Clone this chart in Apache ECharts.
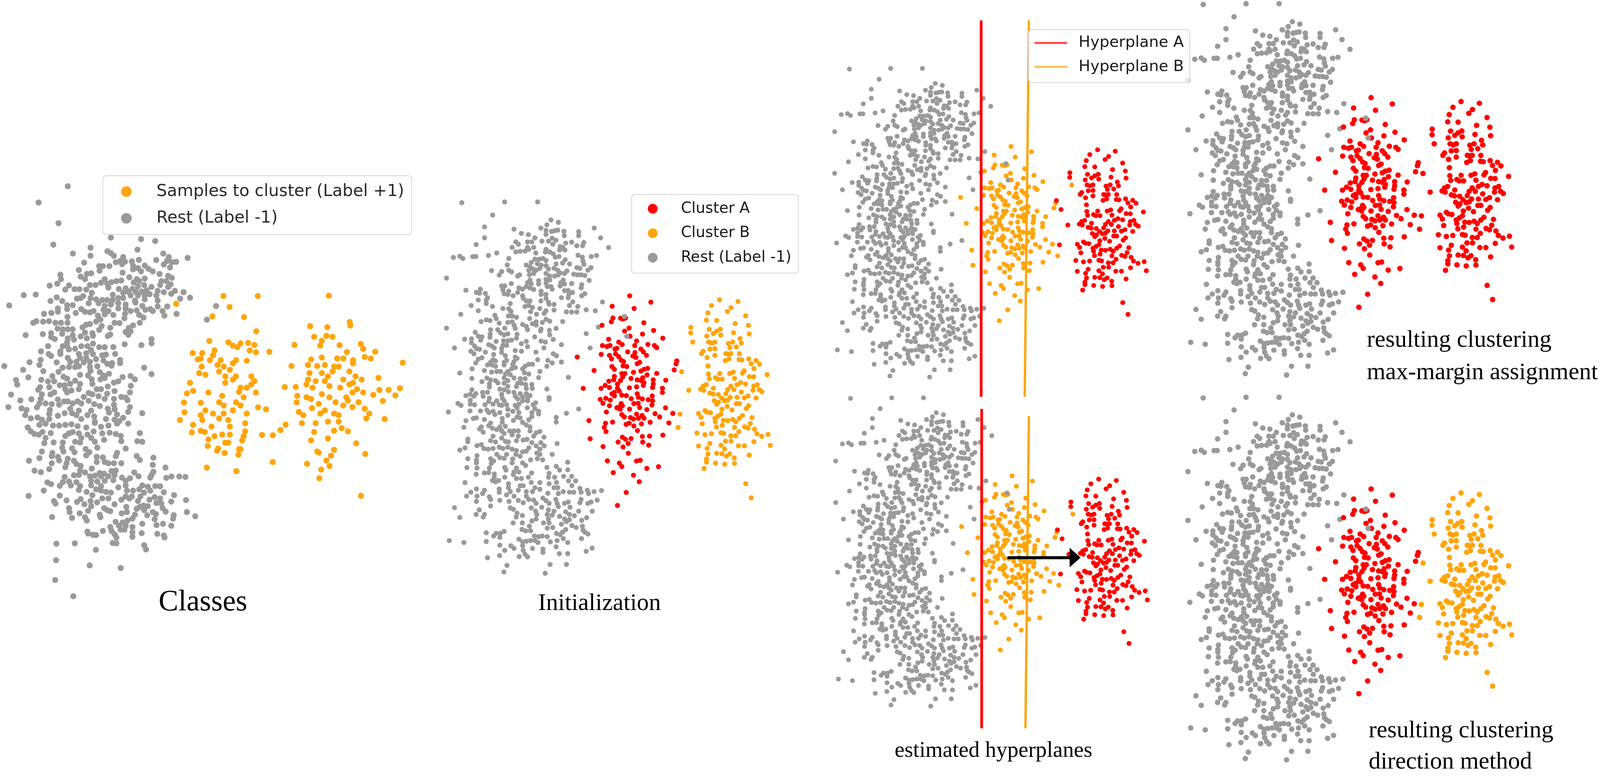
<!DOCTYPE html>
<html><head><meta charset="utf-8">
<style>html,body{margin:0;padding:0;background:#fff;overflow:hidden}#c{width:100vw;height:100vh}</style>
<script src="https://cdn.jsdelivr.net/npm/echarts@6/dist/echarts.min.js"></script>
</head><body><div id="c"></div>
<script>
// Point positions, in reading units of each crop.
const restSharedFar = [[77,30],[238,27],[362,27],[193,79]];
const restSharedUpper = [[890,10],[950,28],[857,47],[351,63],[590,80],[808,72],[1241,72],[650,113],[707,122],[351,147],[760,147],[1293,147],[283,198],[850,90],[850,120],[895,98],[920,92],[945,88],[995,97],[998,130],[1115,100],[1115,130],[817,172],[700,178],[735,178],[605,178],[625,195],[575,220],[870,172],[900,150],[930,165],[905,195],[1010,187],[1058,180],[1100,207],[1157,182],[1147,207],[1358,221],[750,220],[700,220],[965,215],[985,220],[960,240],[1003,240],[850,235],[845,255],[880,255],[605,255],[640,250],[680,248],[710,235],[767,263],[450,263],[383,282],[98,297],[150,288],[175,305],[255,290],[280,290],[908,270],[925,295],[955,290],[1110,280],[1145,295],[1217,290],[1260,282],[548,305],[1150,325],[1158,350],[1005,315],[985,340],[1041,347],[932,347],[760,310],[795,310],[825,305],[850,320],[730,335],[690,355],[720,370],[780,345],[810,355],[850,360],[535,355],[1100,375],[1125,380],[1215,375],[1190,395],[870,385],[915,380],[945,395],[965,415],[1020,400],[1000,420],[408,398],[490,405],[470,432],[548,395],[570,408],[620,440],[635,430],[710,395],[745,385],[770,395],[800,380],[715,430],[750,420],[850,420],[880,440],[920,440],[950,430],[1075,425],[1105,430],[1135,430],[1165,435],[42,455],[1200,473],[720,470],[850,465],[880,470],[790,475],[790,500],[990,470],[970,490],[1000,500],[965,515],[1058,497],[1140,505],[1135,530],[568,497],[490,515],[515,515],[700,490],[730,500],[850,495],[860,520],[890,520],[900,540],[690,520],[720,530],[750,542],[630,530],[660,540],[620,565],[500,545],[548,555],[510,575],[540,580],[200,548],[317,540],[285,565],[310,570],[357,572],[1000,552],[1030,550],[1065,565],[1035,580],[1030,605],[1165,575],[1140,590],[810,555],[810,580],[850,580],[583,590],[660,590],[665,610],[975,605],[375,605],[365,625],[300,623],[365,650],[850,610],[870,640],[808,630],[1308,638],[690,630],[720,630],[1067,637],[1040,665],[875,655],[915,657],[560,650],[242,665],[415,672],[680,672],[710,665],[740,680],[725,712],[1108,672],[500,688],[548,690],[800,688],[915,700],[1176,698],[1015,714],[1058,715],[1100,715],[1250,705],[300,705],[565,710],[850,705],[835,725],[773,732],[158,732],[435,740],[545,745],[575,745],[610,755],[445,765],[717,765],[365,775],[395,780],[323,788],[850,770],[880,785],[985,788],[470,800],[540,795],[575,790],[770,790],[740,805],[770,815],[820,795],[660,810],[690,825],[700,850],[590,815],[600,840],[810,845],[42,838],[515,838],[458,850],[400,850],[877,855],[932,840],[805,860],[275,870],[480,875],[510,890],[540,882],[397,885],[395,908],[880,890],[615,885],[610,915],[758,905],[1176,880],[300,900],[330,905],[190,923],[245,920],[320,930],[908,925],[245,950],[445,940],[505,935],[570,930],[540,935],[690,940],[810,937],[845,945],[500,970],[530,970],[650,957],[385,965],[410,975],[270,975],[700,980],[975,965],[833,990],[107,990],[430,990],[490,995],[285,995],[310,1000],[1208,990],[600,1010],[650,1015],[240,1015],[265,1035],[358,1022],[490,1025],[768,1022],[908,1035],[935,1050],[425,1040],[520,1050],[600,1060],[330,1065],[300,1075],[420,1080],[400,1100],[440,1090],[615,1070],[782,1080],[865,1085],[590,1095],[510,1100],[530,1085],[975,1098],[280,1105],[900,1105],[740,1115],[710,1115],[680,1130],[857,1130],[375,1120],[410,1120],[440,1130],[510,1120],[580,1115],[600,1140],[570,1150],[250,1150],[660,1150],[800,1170],[350,1163],[408,1175],[150,1182],[450,1170],[540,1170],[480,1170],[675,1180],[710,1190],[520,1190],[560,1195],[790,1217],[1032,1215],[248,1223],[370,1220],[510,1220],[590,1220],[640,1225],[680,1225],[400,1235],[440,1240],[460,1258],[330,1248],[540,1240],[620,1260],[650,1260],[735,1270],[390,1265],[685,1270],[510,1260],[540,1285],[390,1290],[610,1285],[738,1300],[857,1305],[475,1305],[510,1310],[690,1300],[248,1310],[335,1330],[375,1330],[545,1325],[590,1330],[640,1340],[690,1340],[720,1355],[280,1340],[200,1355],[235,1345],[265,1360],[340,1360],[490,1345],[600,1360],[660,1365],[875,1370],[390,1375],[620,1380],[495,1375],[700,1375],[1275,830]];
const restSharedLower = [[875,5],[135,35],[160,50],[235,10],[235,40],[270,45],[355,45],[385,20],[420,40],[450,15],[470,45],[510,15],[530,45],[490,50],[600,50],[630,40],[660,15],[700,15],[765,30],[745,45],[698,68],[1115,77],[58,100],[233,92],[318,92],[370,85],[385,105],[420,95],[435,120],[475,105],[540,80],[540,125],[615,70],[580,95],[630,105],[760,75],[790,95],[735,105],[790,115],[1016,110],[260,150],[285,145],[933,142],[200,167],[350,158],[615,140],[585,165],[640,145],[710,160],[735,135],[495,150],[495,180],[933,178],[660,180],[400,185],[385,205],[183,218],[325,215],[310,230],[340,255],[415,225],[450,235],[475,215],[520,210],[690,200],[720,215],[720,245],[800,250],[770,260],[750,285],[490,245],[510,265],[555,245],[590,245],[625,245],[625,285],[575,275],[833,293],[215,308],[215,328],[420,285],[400,320],[440,330],[490,300],[520,325],[545,330],[610,320],[665,315],[695,310],[735,335],[808,335],[940,342],[290,358],[325,350],[835,360],[770,360],[345,380],[380,385],[420,380],[470,370],[500,380],[540,370],[575,385],[610,395],[660,405],[690,400],[710,375],[192,376],[150,392],[800,385],[775,415],[605,425],[640,440],[800,425],[900,425],[450,425],[475,450],[530,425],[510,455],[290,435],[215,458],[285,470],[285,490],[400,458],[425,475],[405,495],[580,460],[575,490],[725,467],[780,458],[823,467],[660,490],[685,510],[1026,485],[208,526],[290,530],[515,525],[525,545],[390,530],[857,525],[933,517],[960,545],[1026,543],[610,530],[350,567],[385,565],[283,577],[430,575],[590,560],[630,560],[585,580],[733,567],[875,570],[610,610],[650,610],[707,600],[515,600],[430,600],[415,625],[465,625],[440,635],[870,600],[920,600],[993,593],[1058,593],[1033,628],[1090,628],[192,641],[730,640],[800,641],[545,650],[875,650],[935,640],[1060,665],[1125,685],[640,665],[665,665],[545,680],[760,680],[800,692],[285,690],[350,700],[240,715],[470,690],[470,715],[625,700],[690,710],[740,710],[915,680],[945,680],[990,710],[1040,715],[1075,715],[1135,715],[1185,700],[1195,725],[1240,710],[1300,702],[865,723],[205,745],[290,745],[335,725],[560,710],[530,735],[590,745],[690,745],[950,725],[930,770],[390,750],[400,770],[285,785],[475,777],[625,777],[550,785],[665,795],[710,770],[750,775],[770,800],[825,760],[850,780],[875,800],[1135,770],[1125,795],[1265,775],[1190,800],[1215,790],[940,800],[1000,800],[1030,790],[400,820],[107,833],[560,835],[585,845],[730,835],[815,830],[765,860],[1045,830],[950,825],[1010,865],[870,850],[915,860],[1115,860],[1225,860],[308,850],[615,875],[283,885],[350,885],[340,905],[150,908],[608,905],[658,893],[775,885],[860,885],[900,890],[1040,885],[1080,895],[1180,910],[960,900],[1000,920],[770,920],[735,935],[870,920],[830,950],[875,950],[1040,925],[1140,930],[583,950],[658,950],[975,960],[1015,940],[1060,970],[1095,985],[1145,975],[715,975],[860,990],[905,985],[655,1000],[685,1010],[725,1010],[1150,1005],[1010,1000],[985,1020],[1190,1035],[1165,1020],[365,1025],[510,1015],[480,1030],[445,1030],[425,1050],[475,1060],[935,1030],[965,1040],[990,1070],[755,1050],[790,1055],[820,1050],[860,1055],[1138,1070],[630,1075],[660,1095],[690,1090],[725,1085],[760,1085],[785,1100],[885,1095],[940,1085],[1026,1100],[65,1085],[183,1100],[365,1092],[475,1120],[565,1125],[590,1145],[660,1125],[665,1160],[740,1145],[932,1133],[825,1150],[825,1175],[515,1160],[1224,1143],[1176,1167],[958,1185],[1026,1185],[680,1190],[700,1210],[632,1208],[473,1200],[375,1217],[533,1275],[883,1268],[1016,1268],[508,1325],[843,1335]];
const restOverlap = [[688,483],[697,562]];
const clusterLeftCrop = [[449,20],[621,65],[307,94],[485,110],[313,178],[300,205],[375,180],[415,178],[395,185],[225,230],[564,212],[444,250],[408,272],[643,267],[553,293],[452,308],[718,322],[278,330],[505,342],[490,375],[597,367],[650,375],[668,390],[228,375],[265,382],[290,375],[360,350],[388,368],[345,395],[330,400],[540,400],[560,420],[585,445],[433,420],[492,425],[475,450],[500,460],[218,438],[285,445],[302,470],[335,435],[360,455],[23,457],[380,480],[400,490],[395,520],[425,525],[530,495],[510,505],[305,525],[325,545],[160,553],[595,538],[565,545],[540,557],[480,566],[668,574],[385,575],[410,575],[325,595],[392,600],[590,585],[460,610],[555,605],[742,623],[280,630],[320,620],[375,625],[510,620],[540,625],[640,620],[640,650],[350,650],[565,640],[560,660],[505,670],[635,675],[715,680],[715,710],[250,660],[285,675],[217,681],[72,681],[447,677],[350,680],[325,710],[365,700],[305,720],[510,720],[325,735],[385,730],[422,733],[520,745],[552,757],[632,735],[600,762],[635,770],[630,800],[210,760],[255,752],[292,765],[462,755],[232,788],[483,790],[518,788],[285,805],[380,790],[360,815],[345,820],[390,805],[530,818],[372,830],[448,830],[588,833],[740,820],[260,850],[655,862],[692,885],[385,868],[405,885],[505,865],[550,875],[455,890],[480,900],[520,895],[565,895],[118,911],[310,922],[615,923],[767,928],[545,935],[253,930],[420,938],[445,930],[483,950],[243,960],[257,990],[512,983],[552,1025],[610,1022],[718,1015],[128,1041],[390,1030],[415,1045],[460,1040],[437,1075],[355,1065],[555,1065],[603,1087],[233,1097],[395,1100],[438,1145],[268,1199],[365,1215],[385,1240],[505,1200],[535,1195],[588,1253],[683,1241],[316,1283],[480,1302],[527,1348],[421,1425],[350,1518]];
const clusterRightCrop = [[279,48],[428,60],[213,89],[372,105],[342,132],[183,141],[490,162],[171,193],[255,195],[405,218],[513,231],[45,245],[44,285],[194,259],[285,258],[255,272],[228,290],[288,300],[392,283],[519,292],[175,307],[445,325],[190,350],[240,350],[215,358],[385,350],[350,360],[455,358],[362,390],[415,385],[200,400],[240,398],[145,415],[132,432],[240,445],[330,432],[370,432],[345,435],[440,433],[178,461],[355,470],[325,483],[437,475],[460,478],[515,470],[575,482],[603,508],[535,505],[558,540],[185,521],[478,555],[465,572],[665,583],[188,578],[195,612],[280,575],[245,605],[265,615],[300,615],[360,575],[390,565],[400,610],[520,597],[555,598],[490,650],[450,640],[420,655],[170,655],[145,665],[125,687],[150,695],[28,695],[228,680],[370,665],[345,690],[395,690],[555,665],[585,655],[550,695],[600,690],[622,705],[455,708],[200,715],[225,722],[268,725],[330,720],[510,735],[480,748],[575,750],[365,745],[345,765],[420,745],[295,750],[235,768],[270,780],[255,795],[320,770],[415,790],[440,790],[515,805],[495,825],[340,810],[380,835],[298,830],[160,840],[175,850],[205,855],[108,860],[128,888],[290,865],[265,880],[465,875],[440,895],[542,890],[240,895],[245,920],[310,910],[345,912],[385,903],[410,920],[300,945],[138,934],[528,932],[253,958],[400,960],[482,955],[510,965],[435,990],[562,973],[582,1005],[620,1024],[672,1010],[95,1000],[160,1012],[212,1005],[290,998],[312,1003],[370,1020],[410,1020],[327,1058],[372,1058],[557,1062],[200,1075],[108,1093],[290,1088],[432,1092],[480,1092],[690,1088],[178,1110],[320,1115],[185,1150],[255,1145],[298,1148],[360,1150],[335,1165],[398,1178],[519,1158],[172,1185],[172,1208],[400,1217],[246,1215],[321,1223],[153,1254],[491,1362],[535,1463]];
const bridgeP = [[885,660]];
const bridgeQ = [[882,672],[875,696],[870,869]];
const bridgeR = [[903,703],[897,872]];
const bridgeS = [[890,925]];
const rightStray = [[945,585]];
const restClassesFar = [[221,93],[126,143],[191,207],[705,463],[675,505]];
const restClassesUpper = [[900,25],[1145,37],[1260,52],[433,80],[735,103],[1116,118],[592,148],[735,165],[872,130],[900,145],[925,165],[1325,148],[1370,175],[1523,182],[1000,175],[1127,197],[1268,198],[1070,208],[1430,212],[1395,215],[683,218],[940,215],[975,205],[1015,210],[990,230],[1355,205],[1330,232],[805,245],[835,245],[808,280],[888,245],[1080,240],[1120,260],[1080,270],[1145,285],[1175,240],[1205,265],[1240,285],[1380,255],[640,275],[490,310],[495,345],[740,300],[705,305],[995,295],[1295,305],[1050,330],[655,325],[690,345],[1110,345],[1175,340],[1365,320],[1395,335],[850,345],[820,372],[985,355],[945,360],[905,368],[870,380],[465,380],[403,395],[1085,370],[1130,360],[1310,360],[1350,360],[1385,385],[1300,390],[730,390],[775,390],[560,393],[1120,400],[1170,390],[1230,405],[880,410],[1365,405],[530,425],[605,422],[645,422],[700,425],[965,420],[1020,415],[1075,420],[1100,440],[1150,440],[1190,430],[1280,435],[1330,445],[1420,435],[1390,457],[1490,445],[290,463],[193,468],[745,450],[915,465],[1000,450],[1040,440],[1060,470],[1120,470],[1175,470],[1215,460],[1270,470],[460,485],[675,475],[735,490],[625,495],[655,490],[1543,487],[1463,495],[410,513],[505,513],[780,500],[830,505],[870,505],[915,505],[960,490],[1000,490],[1095,510],[1175,500],[1280,510],[75,547],[545,545],[590,545],[720,530],[800,530],[850,550],[900,540],[960,530],[1020,540],[1100,525],[1155,550],[1280,555],[1357,555],[545,575],[470,570],[660,575],[690,595],[730,600],[760,590],[840,580],[880,590],[960,570],[1020,570],[1060,590],[1110,585],[1180,580],[1220,575],[1320,590],[1433,612],[470,595],[417,605],[358,612],[615,605],[850,615],[920,620],[1015,610],[1130,620],[1240,590],[1335,625],[795,625],[548,635],[1165,640],[1010,645],[815,655],[270,680],[295,668],[350,672],[398,668],[450,680],[495,680],[548,680],[1135,680],[930,680],[970,682],[780,670],[730,690],[700,695],[1080,700],[670,715],[895,718],[825,705],[805,735],[467,725],[1045,720],[510,730],[550,730],[590,730],[415,760],[348,767],[208,775],[1020,750],[1060,745],[505,765],[590,775],[690,755],[750,760],[755,780],[655,785],[895,770],[875,782],[1042,772],[705,800],[415,790],[550,800],[600,810],[445,805],[1230,805],[1230,838],[545,830],[1012,845],[1148,852],[755,840],[920,867],[390,860],[510,860],[545,860],[660,860],[710,860],[805,868],[850,868],[333,900],[490,900],[560,885],[610,880],[740,890],[640,920],[700,915],[935,920],[395,920],[490,920],[830,930],[860,925],[755,920],[415,935],[550,950],[650,950],[700,950],[780,960],[975,965],[330,965],[240,983],[460,985],[570,980],[620,980],[680,985],[730,980],[840,970],[870,995],[910,990],[975,990],[320,1005],[35,1013],[560,1020],[610,1020],[640,1015],[730,1020],[790,1015],[905,1010],[508,1025],[1170,1025],[352,1052],[188,1042],[475,1057],[735,1050],[810,1060],[1230,1075],[650,1080],[885,1072],[715,1085],[840,1085],[425,1090],[515,1095],[230,1100],[130,1120],[995,1097],[1060,1090],[815,1115],[850,1105],[745,1115],[545,1110],[335,1118],[390,1130],[440,1130],[1095,1115],[960,1130],[925,1140],[610,1125],[140,1155],[750,1150],[485,1160],[525,1160],[570,1150],[650,1150],[1062,1165],[325,1175],[875,1170],[400,1175],[530,1190],[580,1200],[640,1190],[820,1190],[785,1190],[930,1205],[310,1195],[440,1215],[1055,1215],[870,1225],[90,1232],[340,1230],[410,1230],[545,1215],[720,1220],[750,1230],[680,1250],[800,1245],[850,1265],[925,1265],[985,1250],[1020,1255],[1035,1275],[255,1268],[330,1265],[470,1270],[520,1285],[550,1285],[630,1285],[720,1280],[165,1277],[370,1300],[320,1300],[420,1305],[480,1310],[590,1300],[660,1300],[765,1305],[925,1310],[810,1320],[68,1328],[300,1330],[1055,1328],[175,1338],[215,1350],[405,1350],[570,1340],[640,1355],[875,1340],[885,1370],[930,1345],[1040,1365],[1155,1375],[740,1355],[525,1375],[585,1375],[400,1380],[205,1390],[470,1395],[620,1390],[710,1390],[765,1400],[950,1385],[305,1408],[250,1415],[340,1425],[400,1420],[660,1420],[1000,1410],[860,1420],[770,1440],[930,1425],[970,1435]];
const restClassesLower = [[860,15],[140,25],[190,15],[250,30],[300,30],[350,25],[400,20],[450,35],[590,10],[640,40],[700,30],[770,15],[520,45],[45,45],[70,75],[100,95],[135,100],[165,80],[232,88],[955,88],[380,90],[410,80],[350,110],[580,75],[460,90],[530,100],[650,90],[710,85],[760,95],[800,110],[190,125],[480,125],[560,125],[665,140],[805,150],[180,165],[255,160],[330,160],[430,155],[470,160],[590,155],[935,150],[975,155],[325,200],[405,205],[610,200],[515,210],[840,207],[160,230],[335,230],[425,235],[545,235],[770,240],[520,260],[245,240],[760,265],[930,265],[240,265],[290,270],[140,280],[605,270],[655,275],[955,295],[1065,277],[55,300],[370,285],[300,298],[420,300],[605,310],[670,310],[700,320],[745,320],[805,320],[240,320],[360,320],[440,325],[1060,332],[350,350],[475,340],[220,365],[565,360],[1163,353],[100,377],[152,388],[470,375],[760,375],[725,380],[510,390],[1065,385],[910,390],[630,395],[665,400],[1050,410],[420,412],[460,410],[550,420],[590,415],[640,420],[700,420],[750,410],[1040,430],[345,425],[810,430],[875,435],[945,420],[1170,432],[1212,422],[1275,422],[1325,425],[205,467],[235,480],[380,460],[440,465],[560,455],[610,460],[670,455],[740,450],[840,455],[395,490],[330,465],[305,493],[470,495],[560,490],[640,495],[975,490],[840,490],[1020,500],[1080,495],[1120,497],[175,530],[460,525],[600,520],[780,505],[640,530],[950,520],[1040,530],[720,545],[680,540],[850,530],[900,530],[990,545],[523,540],[1150,543],[570,565],[1233,565],[52,571],[305,568],[840,575],[890,575],[960,575],[650,590],[700,590],[805,600],[870,590],[1075,580],[1120,590],[1033,600],[258,610],[360,605],[555,610],[475,595],[445,618],[1330,603],[1210,615],[608,620],[940,610],[750,635],[505,635],[270,630],[1090,625],[1130,630],[845,655],[985,645],[955,655],[1020,650],[380,665],[560,650],[665,665],[1140,665],[930,670],[990,680],[715,688],[535,685],[690,680],[850,695],[1060,695],[1165,692],[1337,695],[385,695],[467,705],[808,705],[630,715],[915,715],[1015,720],[1085,710],[1230,718],[1405,727],[243,733],[405,740],[510,735],[1225,745],[635,735],[895,745],[855,760],[1075,750],[525,760],[758,770],[815,775],[975,785],[1143,785],[1090,795],[785,800],[840,800],[1210,800],[715,810],[895,810],[800,830],[830,830],[725,840],[530,845],[655,840],[970,857],[895,850],[1097,862],[895,885],[1150,875],[750,865],[575,870],[600,872],[765,890],[1155,890],[535,860],[735,932],[765,935],[278,938],[427,935],[990,950],[1005,982],[598,985],[275,1065],[548,1105],[800,1125],[268,1217],[415,1342]];
const samplesClasses = [[575,456],[729,432],[841,432],[1073,431],[749,466],[693,495],[796,497],[1012,525],[1068,528],[1141,512],[1143,523],[836,541],[1025,558],[1065,555],[1085,558],[1050,570],[1045,585],[683,571],[745,575],[760,585],[785,578],[810,577],[775,590],[830,583],[961,583],[1108,584],[1177,580],[1185,595],[1132,605],[879,604],[835,606],[815,600],[700,600],[660,608],[629,608],[1224,604],[695,615],[685,630],[655,625],[645,628],[1050,622],[1015,628],[1100,625],[1120,625],[1190,620],[1210,625],[1152,630],[1152,640],[1314,638],[720,630],[770,630],[760,640],[805,632],[710,645],[730,650],[750,660],[1005,645],[951,648],[1035,648],[1090,650],[1105,650],[1060,645],[658,650],[650,670],[670,675],[715,665],[770,680],[735,680],[820,680],[830,695],[1010,670],[1050,670],[1085,665],[1140,665],[1160,680],[1180,690],[1235,685],[1005,690],[1030,695],[1070,680],[1120,690],[1152,700],[620,700],[735,700],[760,690],[1000,705],[1060,695],[1140,705],[820,705],[805,715],[1165,720],[785,715],[780,728],[929,713],[965,713],[1305,717],[1238,722],[1268,722],[1020,715],[1075,710],[1110,715],[630,725],[610,733],[680,730],[725,740],[835,730],[1185,730],[1218,737],[1290,739],[1150,730],[970,740],[1000,745],[1050,735],[1075,745],[1130,745],[795,745],[770,760],[715,760],[600,761],[655,762],[968,760],[1015,750],[1040,765],[1095,760],[1170,760],[1249,756],[1135,755],[842,776],[868,782],[670,785],[730,770],[785,770],[1018,778],[1060,785],[1120,770],[1150,775],[1190,780],[602,791],[655,800],[695,795],[730,795],[760,785],[805,795],[975,790],[990,800],[1045,795],[1090,795],[1105,800],[1205,795],[1255,812],[587,815],[660,815],[715,810],[745,815],[800,825],[1195,810],[1105,820],[1070,820],[1030,825],[985,825],[630,830],[750,835],[690,835],[932,829],[626,853],[655,848],[668,852],[915,846],[855,861],[890,862],[1090,848],[1115,840],[1135,850],[1025,852],[800,850],[795,865],[700,865],[725,860],[750,860],[680,875],[745,885],[735,885],[790,878],[1015,878],[1070,872],[1162,887],[678,895],[712,903],[780,905],[785,905],[708,910],[733,917],[778,922],[1035,912],[1040,916],[1090,907],[1192,920],[1080,925],[1065,940],[890,945],[1002,950],[675,962],[771,973],[1075,957],[1048,968],[1042,995],[1178,1049]];
const hyperplaneA3 = [[591.3,-203],[591.3,1600]];
const hyperplaneB3 = [[777.8,-203],[761.3,1600]];
const hyperplaneA5 = [[589.2,80],[589.2,1612]];
const hyperplaneB5 = [[773.6,115],[760,1612]];
const arrow5 = [[690,793],[954,793]];

// Crop readings to one shared unit per dataset.
const restShared = [...restSharedFar,
  ...restSharedUpper.map(([u,v])=>[u/2.16,93.6+v/1.923]),
  ...restSharedLower.map(([u,v])=>[u/2.16,93.6+(v+1380)/1.923])];
const restClasses = [...restClassesFar,
  ...restClassesUpper.map(([u,v])=>[u/2.488,241.2+v/2.488]),
  ...restClassesLower.map(([u,v])=>[72.4+u/2.488,820+v/2.488])];
const clusterLeft = clusterLeftCrop.map(([u,v])=>[500+u/2.16,390+v/1.795]);
const clusterRight = clusterRightCrop.map(([u,v])=>[916.7+u/2.16,390+v/1.795]);

const W=window.innerWidth, H=window.innerHeight, k=W/4329;
const GRAY='#9a9a9a', ORANGE='#ffa50a', RED='#ff0000';
const panels = [
 {left:0,top:400,width:1078,height:1158,ymin:0,ymax:1397},
 {left:1194,top:512.6,width:936,height:1016,ymin:20,ymax:1600},
 {left:2244.8,top:27.2,width:901,height:1015.6,ymin:-250,ymax:1650},
 {left:3200,top:5,width:936,height:1016,ymin:20,ymax:1600},
 {left:2247.7,top:870.8,width:901,height:1014.6,ymin:-250,ymax:1650},
 {left:3200,top:1012.8,width:936,height:1012.8,ymin:20,ymax:1600}
];
const grids = panels.map(p=>({left:p.left*k,top:p.top,width:p.width*k,height:p.height,show:false}));
const xAxes = panels.map((p,i)=>({type:'value',gridIndex:i,min:0,max:1300,show:false}));
const yAxes = panels.map((p,i)=>({type:'value',gridIndex:i,min:p.ymin,max:p.ymax,inverse:true,show:false}));
const dots=(name,g,data,color,size,z)=>({type:'scatter',name,xAxisIndex:g,yAxisIndex:g,data,symbolSize:size,z:z||2,
  itemStyle:{color,opacity:1},silent:true,clip:false,large:false,progressive:0,animation:false});
const plane=(name,g,data,color,width)=>({type:'line',name,xAxisIndex:g,yAxisIndex:g,data,symbol:'none',z:3,
  lineStyle:{color,width},itemStyle:{color},silent:true,animation:false});
const S1=15.5,S2=13,S3=12.5,S4=14,S5=12.5,S6=14;
const series=[
 dots('Rest (Label -1)',0,restClasses,GRAY,S1),
 dots('Samples to cluster (Label +1)',0,samplesClasses,ORANGE,S1),
 dots('Rest (Label -1)',1,restShared,GRAY,S2),
 dots('Cluster A',1,[...clusterLeft,...bridgeP,...bridgeQ],RED,S2),
 dots('Cluster B',1,[...clusterRight,...bridgeR,...bridgeS,...rightStray],ORANGE,S2),
 dots('Rest (Label -1)',1,restOverlap,GRAY,S2,2.5),
 dots('Rest (Label -1)',2,restShared,GRAY,S3),
 dots('Cluster B',2,[...clusterLeft,...bridgeQ,...bridgeS,...rightStray],ORANGE,S3),
 dots('Cluster A',2,[...clusterRight,...bridgeP,...bridgeR],RED,S3),
 dots('Rest (Label -1)',2,restOverlap,GRAY,S3,2.5),
 plane('Hyperplane A',2,hyperplaneA3,RED,7),
 plane('Hyperplane B',2,hyperplaneB3,ORANGE,6),
 dots('Rest (Label -1)',3,restShared,GRAY,S4),
 dots('Cluster A',3,[...clusterLeft,...clusterRight,...bridgeP,...bridgeQ,...bridgeR,...bridgeS,...rightStray],RED,S4),
 dots('Rest (Label -1)',3,restOverlap,GRAY,S4,2.5),
 dots('Rest (Label -1)',4,restShared,GRAY,S5),
 dots('Cluster B',4,[...clusterLeft,...bridgeQ,...bridgeS,...rightStray],ORANGE,S5),
 dots('Cluster A',4,[...clusterRight,...bridgeP,...bridgeR],RED,S5),
 dots('Rest (Label -1)',4,restOverlap,GRAY,S5,2.5),
 plane('Hyperplane A',4,hyperplaneA5,RED,7),
 plane('Hyperplane B',4,hyperplaneB5,ORANGE,6),
 {type:'line',name:'direction',xAxisIndex:4,yAxisIndex:4,data:arrow5,symbol:'none',z:4,silent:true,animation:false,
  lineStyle:{color:'#000',width:7},
  markLine:{silent:true,animation:false,symbol:['none','triangle'],symbolSize:[50,28],precision:0,label:{show:false},
   lineStyle:{color:'#000',width:7,type:'solid'},data:[[{coord:arrow5[0]},{coord:arrow5[1]}]]}},
 dots('Rest (Label -1)',5,restShared,GRAY,S6),
 dots('Cluster A',5,[...clusterLeft,...bridgeP,...bridgeQ],RED,S6),
 dots('Cluster B',5,[...clusterRight,...bridgeR,...bridgeS,...rightStray],ORANGE,S6),
 dots('Rest (Label -1)',5,restOverlap,GRAY,S6,2.5)
];
const legendBase={orient:'vertical',selectedMode:false,backgroundColor:'rgba(255,255,255,0.8)',borderColor:'#d4d4d4',borderWidth:2,borderRadius:8,z:10};
const legends=[
 {...legendBase,left:278*k,top:450,padding:[19,20*k,20,64*k-13.5],itemWidth:100*k,itemHeight:27,itemGap:68-45*k,
  textStyle:{fontFamily:'DejaVu Sans',fontSize:45*k,color:'#2a2a2a',padding:[0,0,0,26*k]},
  data:[{name:'Samples to cluster (Label +1)',icon:'circle'},{name:'Rest (Label -1)',icon:'circle'}]},
 {...legendBase,left:1709*k,top:498,padding:[17,19*k,20,57*k-12.5],itemWidth:86*k,itemHeight:25,itemGap:62.5-41*k,
  textStyle:{fontFamily:'DejaVu Sans',fontSize:41*k,color:'#1a1a1a',padding:[0,0,0,28*k]},
  data:[{name:'Cluster A',icon:'circle'},{name:'Cluster B',icon:'circle'},{name:'Rest (Label -1)',icon:'circle'}]},
 {...legendBase,left:2782.5*k,top:76,padding:[14,16*k,20,14*k],itemWidth:88*k,itemHeight:6,itemGap:61-42*k,
  itemStyle:{opacity:0},lineStyle:{opacity:0.75,width:5},
  textStyle:{fontFamily:'DejaVu Sans',fontSize:42*k,color:'#1a1a1a',padding:[0,0,0,26*k]},
  data:['Hyperplane A','Hyperplane B']}
];
const caption=(text,x,y,size,align)=>({type:'text',x:x*k,y,z:20,silent:true,style:{text,fontFamily:'Liberation Serif',fontSize:size*k,fill:'#000',align:align||'left',verticalAlign:'middle'}});
const graphic=[
 caption('Classes',549,1543,80,'center'),
 caption('Initialization',1622,1546,65,'center'),
 caption('estimated hyperplanes',2688,1923,60,'center'),
 caption('resulting clustering',3698,872,65),
 caption('max-margin assignment',3698,955,65),
 caption('resulting clustering',3703,1872,65),
 caption('direction method',3703,1952,65)
];
const chart=echarts.init(document.getElementById('c'),null,{renderer:'canvas',width:W,height:H});
chart.setOption({animation:false,backgroundColor:'#fff',grid:grids,xAxis:xAxes,yAxis:yAxes,legend:legends,series,graphic});
</script></body></html>
